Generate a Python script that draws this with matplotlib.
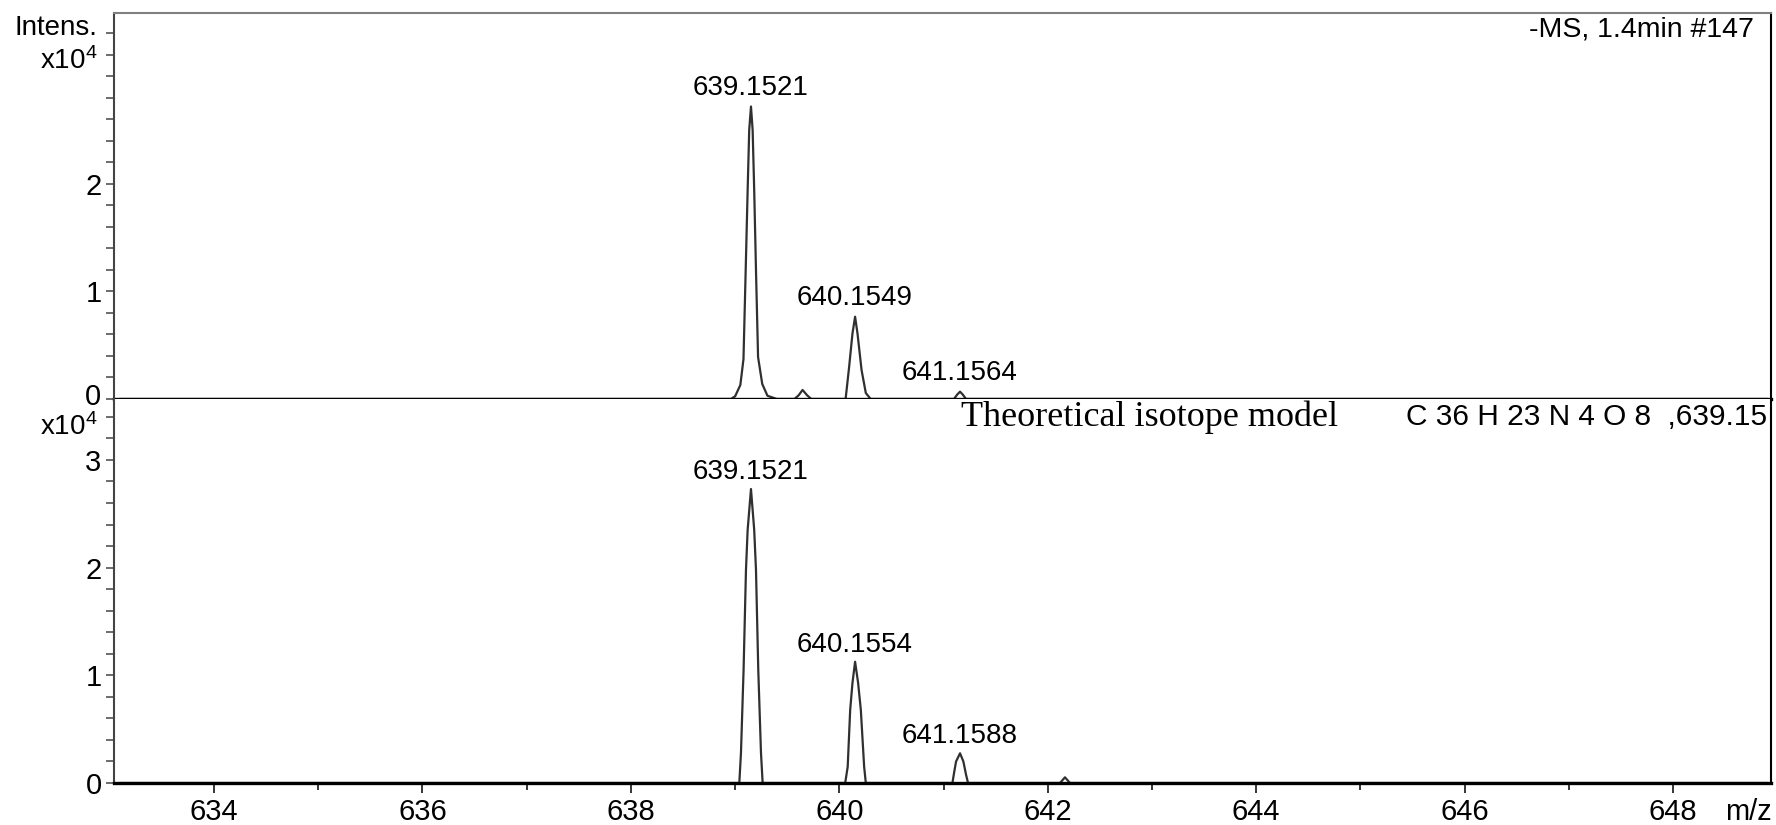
import matplotlib
matplotlib.use("Agg")
import matplotlib.pyplot as plt

plt.rcParams['font.family'] = ['Liberation Sans', 'DejaVu Sans']
plt.rcParams['mathtext.default'] = 'regular'

exp_mz = [633.1, 638.96, 639.00, 639.05, 639.08, 639.10, 639.12, 639.135, 639.152,
          639.168, 639.183, 639.20, 639.22, 639.26, 639.31, 639.40,
          639.57, 639.61, 639.647, 639.69, 639.73,
          640.06, 640.094, 640.126, 640.151, 640.174, 640.213, 640.254, 640.30,
          641.10, 641.13, 641.158, 641.185, 641.215, 648.9]
exp_int = [0, 0, 250, 1300, 3700, 11500, 19400, 25000, 27200,
           25000, 19400, 12000, 3900, 1400, 300, 0,
           0, 350, 840, 350, 0,
           0, 3000, 6100, 7650, 6100, 2700, 550, 0,
           0, 400, 680, 400, 0, 0]

# theoretical isotope model C36H23N4O8
theo_mz = [633.1, 639.04, 639.056, 639.081, 639.104, 639.12, 639.152, 639.183, 639.20,
           639.222, 639.248, 639.264,
           640.056, 640.08, 640.104, 640.126, 640.151, 640.18, 640.206, 640.238, 640.254,
           641.085, 641.10, 641.12, 641.158, 641.19, 641.215, 641.235,
           642.117, 642.165, 642.213, 648.9]
theo_int = [0, 0, 2800, 10500, 19800, 23500, 27300, 23500, 19800,
            10500, 2800, 0,
            0, 1500, 6800, 9300, 11260, 9300, 6800, 1500, 0,
            0, 900, 2000, 2760, 2000, 800, 0,
            0, 530, 0, 0]

# peak labels
exp_labels = ['639.1521', '640.1549', '641.1564']
exp_label_mz = [639.152, 640.151, 641.158]
exp_label_int = [27200, 7650, 680]

theo_labels = ['639.1521', '640.1554', '641.1588']
theo_label_mz = [639.152, 640.151, 641.158]
theo_label_int = [27300, 11260, 2760]

fs = 20
linjefarge = '#303030'

fig = plt.figure(figsize=(17.76, 8.25), dpi=100)
ax1 = fig.add_axes([0.0642, 0.5164, 0.9330, 0.4679])
ax2 = fig.add_axes([0.0642, 0.0509, 0.9330, 0.4655])

ax1.plot(exp_mz, exp_int, color=linjefarge, lw=1.6)
ax2.plot(theo_mz, theo_int, color=linjefarge, lw=1.6)

for ax in (ax1, ax2):
    ax.set_xlim(633.04, 648.94)
    ax.spines['left'].set_color('#444444')
    ax.spines['left'].set_linewidth(1.5)
    ax.spines['right'].set_color('black')
    ax.spines['right'].set_linewidth(1.5)
    ax.tick_params(axis='y', which='both', length=6, width=1.1, color='#444444',
                   labelsize=21, pad=3)
    ax.set_yticks([i * 2000 for i in range(18)], minor=True)

ax1.set_ylim(0, 35900)
ax2.set_ylim(0, 35660)

# top panel
ax1.spines['top'].set_color('#808080')
ax1.spines['top'].set_linewidth(1.5)
ax1.spines['bottom'].set_color('black')
ax1.spines['bottom'].set_linewidth(2.4)
ax1.set_xticks([])
ax1.set_yticks([0, 10000, 20000])
ax1.set_yticklabels(['', '1', '2'])
# the "0" of the top panel, nudged up a little so it does not sit on x10^4 below
ax1.text(-0.0076, 0.012, '0', transform=ax1.transAxes,
         ha='right', va='center_baseline', fontsize=21)
ax1.text(-0.0103, 0.961, 'Intens.', transform=ax1.transAxes,
         ha='right', va='center', fontsize=fs)
ax1.text(-0.0103, 0.874, 'x10$^4$', transform=ax1.transAxes,
         ha='right', va='center', fontsize=fs)

# bottom panel
ax2.spines['top'].set_visible(False)
ax2.spines['bottom'].set_color('black')
ax2.spines['bottom'].set_linewidth(2.4)
ax2.set_yticks([0, 10000, 20000, 30000])
ax2.set_yticklabels(['0', '1', '2', '3'])
ax2.text(-0.0103, 0.926, 'x10$^4$', transform=ax2.transAxes,
         ha='right', va='center', fontsize=fs)
ax2.set_xticks(range(634, 649, 2))
ax2.set_xticks(range(635, 648, 2), minor=True)
ax2.tick_params(axis='x', which='major', length=7, width=1.1, labelsize=21, pad=4)
ax2.tick_params(axis='x', which='minor', length=5, width=1.1)
ax2.text(648.72, -0.04, 'm/z', transform=ax2.get_xaxis_transform(),
         ha='center', va='top', fontsize=21)

for tekst, x, y in zip(exp_labels, exp_label_mz, exp_label_int):
    ax1.annotate(tekst, xy=(x, y), xytext=(0, 4), textcoords='offset points',
                 ha='center', va='bottom', fontsize=fs)
for tekst, x, y in zip(theo_labels, theo_label_mz, theo_label_int):
    ax2.annotate(tekst, xy=(x, y), xytext=(0, 3), textcoords='offset points',
                 ha='center', va='bottom', fontsize=fs)

ax1.text(0.9897, 0.958, '-MS, 1.4min #147', transform=ax1.transAxes,
         ha='right', va='center', fontsize=20.5)
ax2.text(0.9975, 0.953, 'C 36 H 23 N 4 O 8  ,639.15', transform=ax2.transAxes,
         ha='right', va='center', fontsize=21.5)
ax2.text(0.511, 0.953, 'Theoretical isotope model', transform=ax2.transAxes,
         ha='left', va='center', fontsize=26, family=['Liberation Serif', 'DejaVu Serif'])

fig.savefig('out.png', dpi=100)
